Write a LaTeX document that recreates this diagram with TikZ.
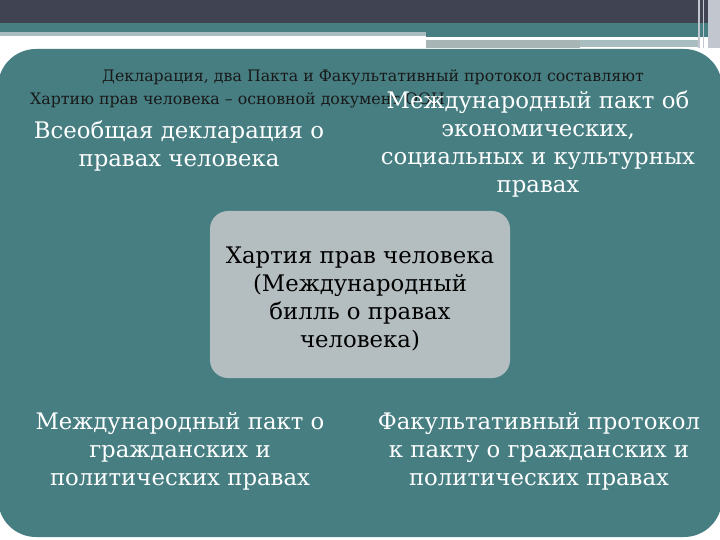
\documentclass[tikz,border=0pt]{standalone}
\usepackage{fontspec}
\setmainfont{DejaVu Serif}
\usetikzlibrary{positioning}

\definecolor{slidedark}{HTML}{404352}
\definecolor{slideteal}{HTML}{467E82}
\definecolor{slidelight}{HTML}{A9BDC1}
\definecolor{stripgray}{HTML}{A7B5B5}
\definecolor{edgegray}{HTML}{C2C6CE}
\definecolor{boxgray}{HTML}{B4BEC0}

\begin{document}
\begin{tikzpicture}[x=1pt,y=-1pt,
  quad/.style={align=center, text=white, font=\fontsize{22.8}{28}\selectfont}]

  \useasboundingbox (0,0) rectangle (720,540);

  % title bars of the slide
  \fill[slidedark] (0,0) rectangle (720,23);
  \fill[slideteal] (0,23) rectangle (720,32);
  \fill[slidelight] (0,32) rectangle (426,36);
  \fill[slideteal] (426,32) rectangle (720,37);
  \fill[white] (426,37) rectangle (667,40);
  \fill[stripgray] (426,40) rectangle (580,48);
  \fill[slidelight] (580,40) rectangle (700,47);
  \fill[edgegray] (708,0) rectangle (720,48);
  \fill[edgegray] (698,0) rectangle (700,48);
  \fill[edgegray] (703,0) rectangle (704,48);

  \node[rectangle,
        fill = slideteal,
        rounded corners = 38pt,
        minimum width = 724pt,
        minimum height = 488pt
        ] (slide) at (360,293) {};

  \node[rectangle,
        fill = boxgray,
        rounded corners = 18pt,
        minimum width = 300pt,
        minimum height = 167pt
        ] (hartia) at (360,294.5) {};
  \node[align = center,
        yshift = -4pt,
        font = \fontsize{22.8}{28}\selectfont
        ] (hartiatext) at (hartia.center)
        {Хартия прав человека\\(Международный\\билль о правах\\человека)};

  \node[align = left,
        anchor = north west,
        inner sep = 0pt,
        text = black!90,
        font = \fontsize{15.8}{23}\selectfont
        ] (heading) at (30,70)
        {\hspace*{72pt}Декларация, два Пакта и Факультативный протокол составляют\\
         Хартию прав человека – основной документ ООН};

  \node[quad] (udhr) at (179,146) {Всеобщая декларация о\\правах человека};
  \node[quad] (icescr) at (538,144)
        {Международный пакт об\\экономических,\\социальных и культурных\\правах};
  \node[quad] (iccpr) at (180,451)
        {Международный пакт о\\гражданских и\\политических правах};
  \node[quad] (optprot) at (539,451)
        {Факультативный протокол\\к пакту о гражданских и\\политических правах};

\end{tikzpicture}
\end{document}
